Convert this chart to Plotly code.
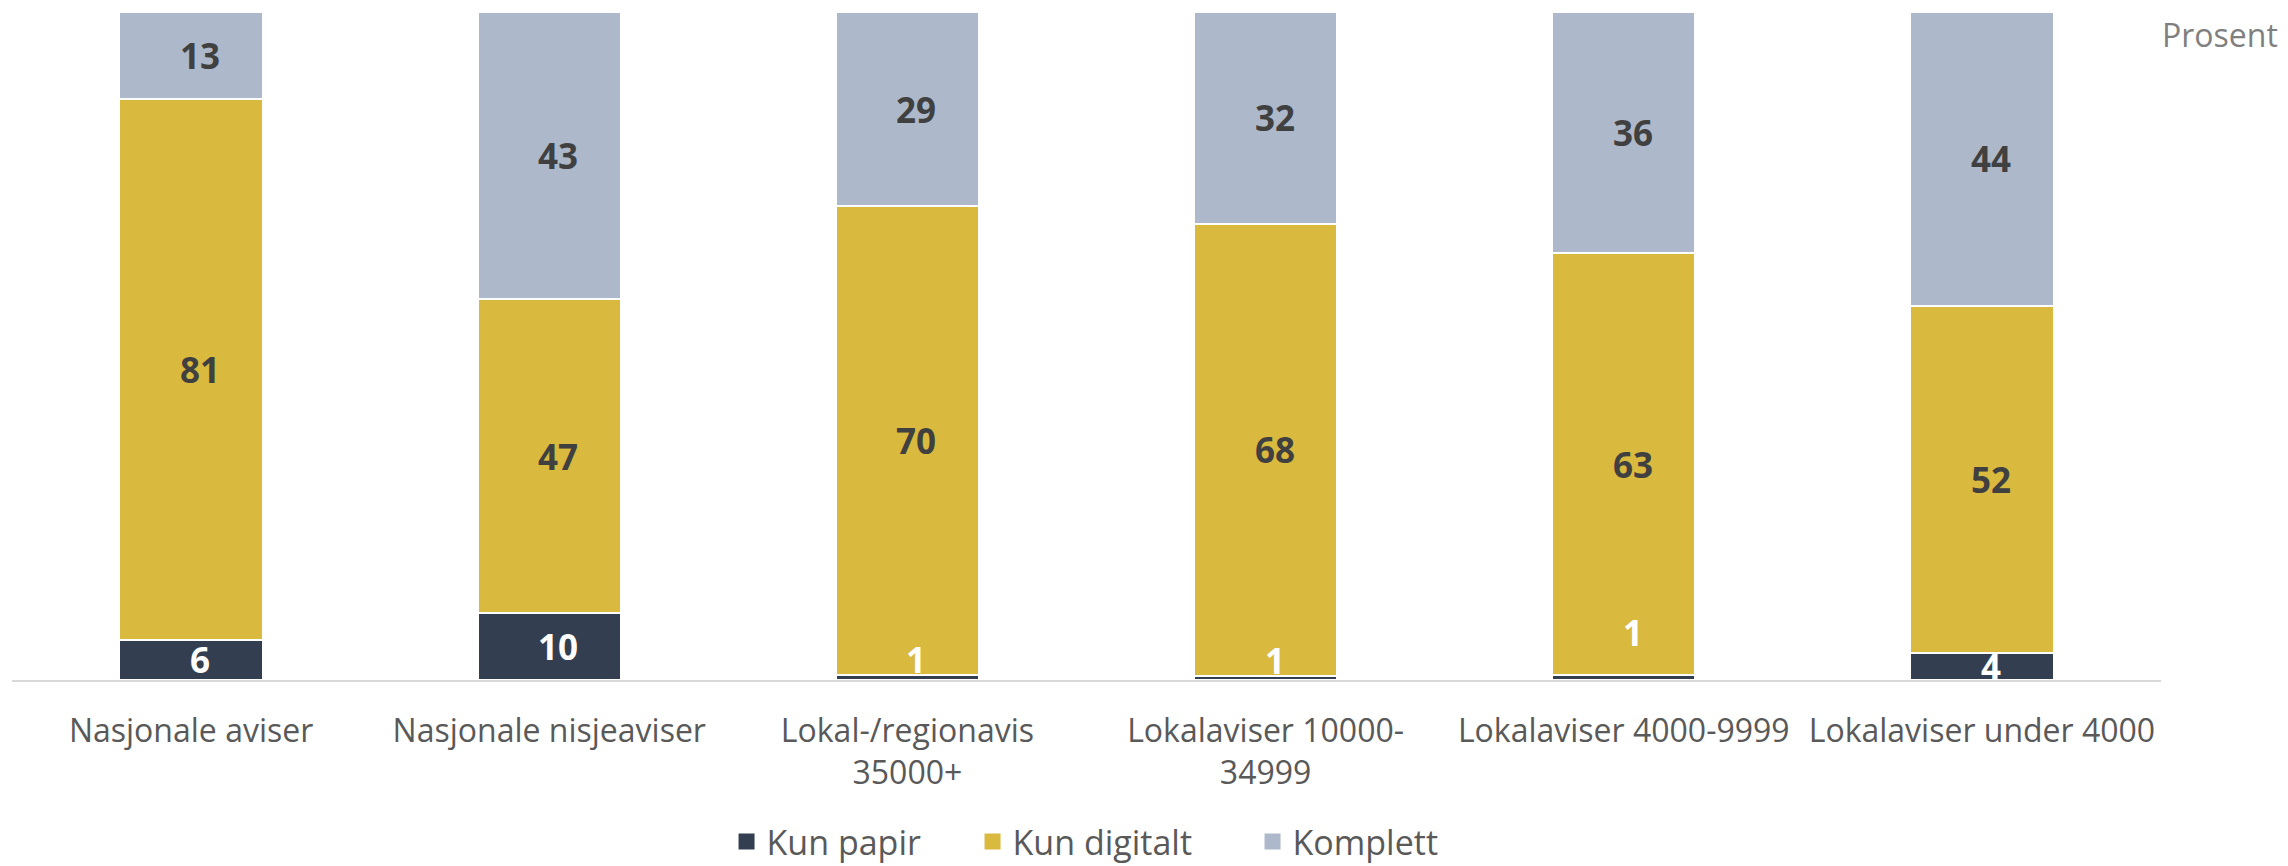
import plotly.graph_objects as go

categories = ["Nasjonale aviser", "Nasjonale nisjeaviser", "Lokal-/regionavis<br>35000+",
              "Lokalaviser 10000-<br>34999", "Lokalaviser 4000-9999", "Lokalaviser under 4000"]
kun_papir = [6, 10, 0.7, 0.6, 0.7, 4]
kun_digitalt = [81, 47, 70.2, 67.7, 63.2, 52]
komplett = [13, 43, 29.1, 31.7, 36.1, 44]

series = [
    ("Kun papir", kun_papir, '#333F50', 'white', 201),
    ("Kun digitalt", kun_digitalt, '#D9B93E', '#404040', 235),
    ("Komplett", komplett, '#ADB9CA', '#404040', 160),
]

# the tiny "1" labels sit a bit above their segment in the original
small_label_shift = {2: 18, 3: 18, 4: 45}

fig = go.Figure()
annotations = []
base = [0] * len(categories)
for name, vals, color, label_color, legend_w in series:
    fig.add_trace(go.Bar(x=categories, y=vals, name=name, marker_color=color,
                         marker_line=dict(color='white', width=2), showlegend=False))
    # legend entry with a bigger square symbol
    fig.add_trace(go.Scatter(x=[None], y=[None], mode='markers', name=name,
                             legendwidth=legend_w,
                             marker=dict(symbol='square', size=21, color=color)))
    for i, v in enumerate(vals):
        shift = small_label_shift.get(i, 0) if v < 2 else 0
        annotations.append(dict(
            x=categories[i], y=base[i] + v / 2, xref='x', yref='y',
            text=f"{v:.0f}", showarrow=False, xshift=9, yshift=shift,
            font=dict(family='Open Sans', size=35, color=label_color, weight='bold')
        ))
        base[i] += v

annotations.append(dict(
    x=1.0554, y=0.9656, xref='paper', yref='paper', xanchor='right', yanchor='middle',
    text="Prosent", showarrow=False, font=dict(family='Open Sans', size=32, color='#7F7F7F')
))

# page body adds an 8px margin, so the figure is 8px smaller than the window
fig.update_layout(
    barmode='stack',
    bargap=0.6,
    width=2280, height=858,
    margin=dict(l=4, r=127, t=4, b=186, autoexpand=False),
    plot_bgcolor='white',
    paper_bgcolor='white',
    font=dict(family='Open Sans', color='#595959'),
    annotations=annotations,
    legend=dict(orientation='h', xanchor='left', x=0.3325, yanchor='middle', y=-0.2425,
                traceorder='normal', itemsizing='trace', bgcolor='rgba(0,0,0,0)',
                font=dict(size=34, color='#595959')),
)
fig.update_xaxes(showline=True, linecolor='#D9D9D9', linewidth=2, ticks='',
                 ticklabelstandoff=22,
                 tickfont=dict(size=32, color='#595959'), showgrid=False)
fig.update_yaxes(range=[0, 100], visible=False)

fig.write_html("out.html")
